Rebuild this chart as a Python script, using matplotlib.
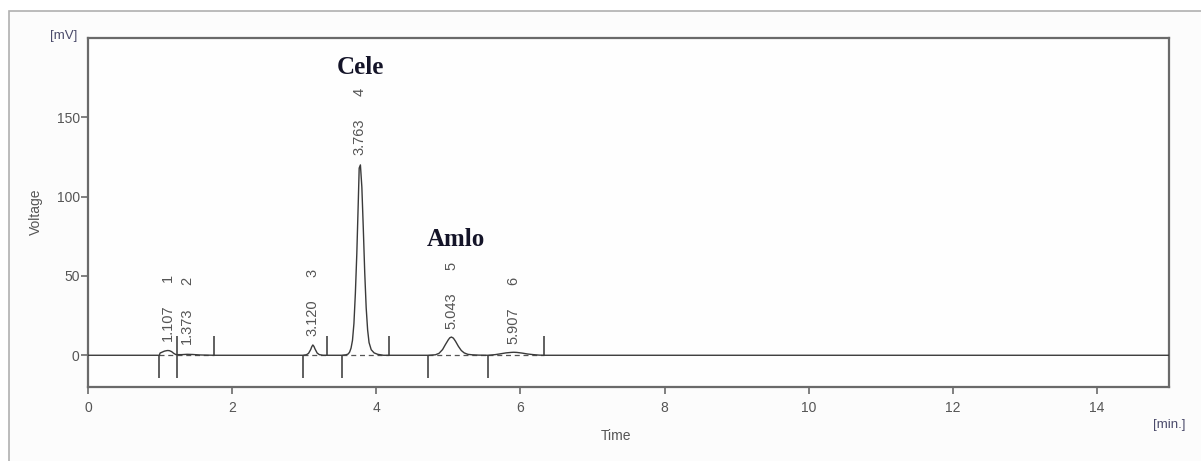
import matplotlib
matplotlib.use('Agg')
import matplotlib.pyplot as plt
from matplotlib.patches import Rectangle

# chromatogram trace (min, mV)
trace_t = [0, 0.99, 1.00, 1.03, 1.06, 1.09, 1.107, 1.13, 1.16, 1.19, 1.22, 1.30, 1.373, 1.45, 1.55, 1.75,
           2.98, 3.03, 3.06, 3.09, 3.105, 3.12, 3.135, 3.15, 3.18, 3.21, 3.26,
           3.52, 3.58, 3.61, 3.63, 3.65, 3.67, 3.69, 3.71, 3.73, 3.75, 3.763,
           3.78, 3.80, 3.82, 3.84, 3.86, 3.88, 3.90, 3.93, 3.97, 4.02, 4.10,
           4.72, 4.82, 4.87, 4.92, 4.96, 5.00, 5.02, 5.043, 5.07, 5.10, 5.14, 5.18,
           5.22, 5.27, 5.33, 5.42, 5.55,
           5.65, 5.72, 5.80, 5.87, 5.907, 5.95, 6.02, 6.10, 6.18, 6.26, 6.33, 15]
trace_v = [0, 0, 1.4, 2.0, 2.6, 2.9, 3.0, 2.9, 2.3, 1.2, 0.4, 0.4, 0.6, 0.5, 0.2, 0,
           0, 0.3, 1.2, 3.6, 5.4, 6.5, 5.6, 4.0, 1.4, 0.4, 0,
           0, 0.3, 0.8, 2.0, 4.5, 9.4, 20, 39, 64, 96, 118,
           120, 106, 80, 52, 30, 16, 8, 3.5, 1.5, 0.6, 0,
           0, 0.3, 1.2, 3.6, 6.8, 9.8, 11.0, 11.5, 10.8, 8.8, 5.6, 3.0,
           1.5, 0.6, 0.3, 0.1, 0,
           0.4, 0.9, 1.5, 1.8, 1.9, 1.8, 1.4, 0.8, 0.4, 0.1, 0, 0]

# peak table
peak_no = ['1', '2', '3', '4', '5', '6']
peak_rt = [1.107, 1.373, 3.120, 3.763, 5.043, 5.907]
peak_top = [3.8, 2.0, 7.0, 121.5, 11.5, 2.0]

# integration marks
start_marks = [0.99, 1.23, 2.98, 3.52, 4.72, 5.55]
end_marks = [1.23, 1.75, 3.31, 4.18, 6.33]
baselines = [(0.99, 1.23), (1.23, 1.75), (2.98, 3.31), (3.52, 4.18), (4.72, 5.55), (5.55, 6.33)]

names = ['Cele', 'Amlo']
name_x = [3.78, 5.11]
name_y = [177, 69]

fig = plt.figure(figsize=(12.01, 4.61), dpi=100)
fig.patch.set_facecolor('white')

# outer frame of the screenshot
frame = Rectangle((9 / 1201, -0.05), 1.1, 1 - 11 / 461 + 0.05,
                  transform=fig.transFigure, facecolor='#fcfcfc',
                  edgecolor='#b0b0b0', lw=1.2, zorder=-5)
fig.add_artist(frame)

ax = fig.add_axes([88 / 1201, 1 - 387 / 461, (1169 - 88) / 1201, (387 - 38) / 461])
ax.set_zorder(2)
ax.set_facecolor('#fefefe')

gray = '#555555'
ax.plot(trace_t, trace_v, color='#3a3a3a', lw=1.0, zorder=3)

for a, b in baselines:
    ax.plot([a, b], [0, 0], color='#555555', lw=0.9, ls=(0, (4, 3)), zorder=2)

ax.vlines(start_marks, -14.5, 0, color='#444444', lw=1.2)
ax.vlines(end_marks, 0, 12, color='#444444', lw=1.2)

for n, rt, h in zip(peak_no, peak_rt, peak_top):
    ax.annotate('%.3f' % rt, xy=(rt, h), xytext=(0, 8), textcoords='offset pixels',
                rotation=90, ha='center', va='bottom', fontsize=10.5,
                family='Liberation Sans', color=gray)
    ax.annotate(n, xy=(rt, h), xytext=(0, 67), textcoords='offset pixels',
                rotation=90, ha='center', va='bottom', fontsize=10.5,
                family='Liberation Sans', color=gray)

for s, x, y in zip(names, name_x, name_y):
    ax.text(x, y, s, ha='center', va='baseline', fontsize=18, fontweight='bold',
            family='Liberation Serif', color='#141428')

ax.set_xlim(0, 15)
ax.set_ylim(-20, 200)
ax.set_xticks([0, 2, 4, 6, 8, 10, 12, 14])
ax.set_yticks([0, 50, 100, 150])
for sp in ax.spines.values():
    sp.set_color('#6a6a6a')
    sp.set_linewidth(1.6)
ax.tick_params(colors='#6a6a6a', labelcolor=gray, length=5, width=1.2, labelsize=10)
ax.tick_params(axis='x', pad=5)
ax.tick_params(axis='y', pad=1)
for lb in ax.get_xticklabels() + ax.get_yticklabels():
    lb.set_family('Liberation Sans')

fig.text(36 / 1201, 1 - 212 / 461, 'Voltage', rotation=90, ha='center', va='center',
         fontsize=10, family='Liberation Sans', color=gray)
fig.text(616 / 1201, 1 - 436 / 461, 'Time', ha='center', va='center',
         fontsize=10, family='Liberation Sans', color=gray)
fig.text(1169 / 1201, 1 - 425 / 461, '[min.]', ha='center', va='center',
         fontsize=9.5, family='Liberation Sans', color='#4a4a6a')
fig.text(77 / 1201, 1 - 36 / 461, '[mV]', ha='right', va='center',
         fontsize=9.5, family='Liberation Sans', color='#4a4a6a')

fig.savefig('out.png', dpi=100)
